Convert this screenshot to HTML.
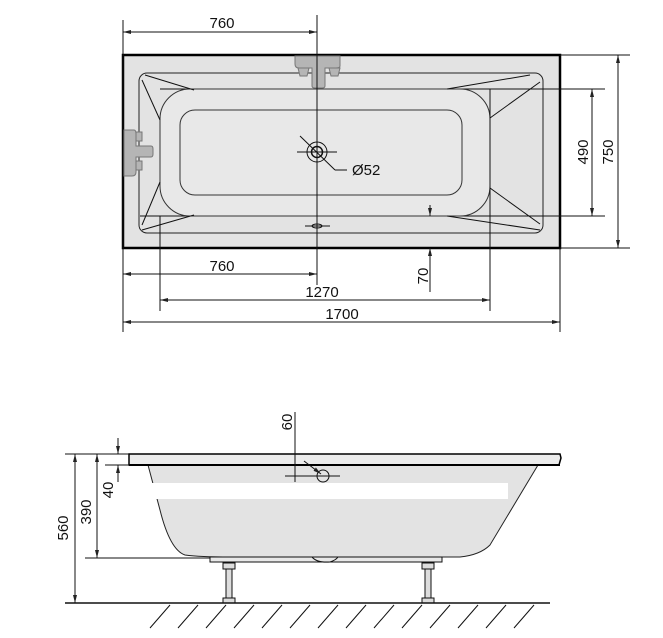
<!DOCTYPE html>
<html><head><meta charset="utf-8"><style>
html,body{margin:0;padding:0;background:#fff;}
svg{display:block;}
text{font-family:"Liberation Sans","DejaVu Sans",sans-serif;font-size:15px;fill:#111;}
</style></head><body>
<svg width="663" height="638" viewBox="0 0 663 638" xmlns="http://www.w3.org/2000/svg">
<defs>
<marker id="a" markerWidth="8" markerHeight="6" refX="8" refY="3" orient="auto-start-reverse" markerUnits="userSpaceOnUse"><path d="M0,1 L8,3 L0,5z" fill="#222"/></marker>
</defs>
<g stroke="#111" stroke-width="1" fill="none">
<!-- TOP VIEW -->
<rect x="123" y="55" width="437" height="193" fill="#e3e3e3" stroke="#000" stroke-width="2.5"/>
<rect x="139" y="73" width="404" height="160" rx="8" stroke="#222"/>
<line x1="160" y1="89" x2="605" y2="89"/>
<line x1="140" y1="216" x2="605" y2="216"/>
<rect x="160" y="89" width="330" height="127" rx="30" fill="#e8e8e8" stroke="#333"/>
<rect x="180" y="110" width="282" height="85" rx="15" stroke="#333"/>
<line x1="145" y1="75" x2="194" y2="90"/><line x1="142" y1="80" x2="160" y2="120"/>
<line x1="142" y1="230" x2="194" y2="215"/><line x1="142" y1="225" x2="160" y2="182"/>
<line x1="530" y1="75" x2="447" y2="89"/><line x1="540" y1="82" x2="490" y2="118"/>
<line x1="540" y1="230" x2="447" y2="216"/><line x1="540" y1="224" x2="490" y2="188"/>
<!-- faucets -->
<path d="M295,56 H340 V66 Q340,68 336,68 H325 V86 Q325,88 322,88 H315 Q312,88 312,86 V68 H299 Q295,68 295,64 Z" fill="#b5b5b5" stroke="#777"/>
<path d="M298,68 H309 L307,76 H300Z" fill="#b5b5b5" stroke="#777"/>
<path d="M329,68 H340 L338,76 H331Z" fill="#b5b5b5" stroke="#777"/>
<path d="M124,130 H134 Q136,130 136,134 V146 H151 Q153,146 153,149 V154 Q153,157 151,157 H136 V172 Q136,176 132,176 H124 Z" fill="#b5b5b5" stroke="#777"/>
<path d="M136,132 H142 V141 H136Z" fill="#b5b5b5" stroke="#777"/>
<path d="M136,161 H142 V170 H136Z" fill="#b5b5b5" stroke="#777"/>
<!-- drain -->
<circle cx="317" cy="152" r="10"/><circle cx="317" cy="152" r="5.5" stroke-width="1.5"/>
<line x1="297" y1="152" x2="337" y2="152"/>
<line x1="300" y1="136" x2="335" y2="170"/><line x1="335" y1="170" x2="347" y2="170"/>
<ellipse cx="317" cy="226" rx="5" ry="2"/><line x1="305" y1="226" x2="330" y2="226"/>
<!-- vertical ext lines -->
<line x1="317" y1="15" x2="317" y2="285"/>
<line x1="123" y1="20" x2="123" y2="332"/>
<line x1="160" y1="216" x2="160" y2="311"/>
<line x1="490" y1="89" x2="490" y2="311"/>
<line x1="560" y1="248" x2="560" y2="332"/>
<line x1="560" y1="55" x2="630" y2="55"/>
<line x1="560" y1="248" x2="630" y2="248"/>
<!-- dims -->
<line x1="123" y1="32" x2="317" y2="32" marker-start="url(#a)" marker-end="url(#a)"/>
<line x1="123" y1="274" x2="317" y2="274" marker-start="url(#a)" marker-end="url(#a)"/>
<line x1="160" y1="300" x2="490" y2="300" marker-start="url(#a)" marker-end="url(#a)"/>
<line x1="123" y1="322" x2="560" y2="322" marker-start="url(#a)" marker-end="url(#a)"/>
<line x1="592" y1="89" x2="592" y2="216" marker-start="url(#a)" marker-end="url(#a)"/>
<line x1="618" y1="55" x2="618" y2="248" marker-start="url(#a)" marker-end="url(#a)"/>
<line x1="430" y1="205" x2="430" y2="216" marker-end="url(#a)"/>
<line x1="430" y1="292" x2="430" y2="248" marker-end="url(#a)"/>
</g>
<text x="222" y="28" text-anchor="middle">760</text>
<text x="222" y="271" text-anchor="middle">760</text>
<text x="322" y="297" text-anchor="middle">1270</text>
<text x="342" y="319" text-anchor="middle">1700</text>
<text x="352" y="175">Ø52</text>
<text transform="translate(588,152) rotate(-90)" text-anchor="middle">490</text>
<text transform="translate(613,152) rotate(-90)" text-anchor="middle">750</text>
<text transform="translate(428,276) rotate(-90)" text-anchor="middle">70</text>

<!-- SIDE VIEW -->
<g stroke="#111" stroke-width="1" fill="none">
<path d="M148,465 L160,510 Q170,550 185,555 Q200,557 230,557 L460,557 Q480,555 490,545 L538,465 Z" fill="#e3e3e3" stroke="#222"/>
<path d="M129,454 H560 L561,458 L559,465 H129 Z" fill="#ececec" stroke="#000" stroke-width="1.5"/>
<line x1="129" y1="465" x2="560" y2="465" stroke="#000" stroke-width="2"/>
<rect x="210" y="557" width="232" height="5" fill="#e8e8e8"/>
<path d="M312,557 Q317,563 330,562 Q336,560 338,557" />
<rect x="223" y="563" width="12" height="6" fill="#ddd"/><rect x="226" y="569" width="6" height="32" fill="#ddd"/><rect x="223" y="598" width="12" height="5" fill="#ddd"/>
<rect x="422" y="563" width="12" height="6" fill="#ddd"/><rect x="425" y="569" width="6" height="32" fill="#ddd"/><rect x="422" y="598" width="12" height="5" fill="#ddd"/>
<line x1="65" y1="603" x2="550" y2="603" stroke-width="1.5"/>
<line x1="150" y1="628" x2="170" y2="605"/><line x1="178" y1="628" x2="198" y2="605"/><line x1="206" y1="628" x2="226" y2="605"/><line x1="234" y1="628" x2="254" y2="605"/><line x1="262" y1="628" x2="282" y2="605"/><line x1="290" y1="628" x2="310" y2="605"/><line x1="318" y1="628" x2="338" y2="605"/><line x1="346" y1="628" x2="366" y2="605"/><line x1="374" y1="628" x2="394" y2="605"/><line x1="402" y1="628" x2="422" y2="605"/><line x1="430" y1="628" x2="450" y2="605"/><line x1="458" y1="628" x2="478" y2="605"/><line x1="486" y1="628" x2="506" y2="605"/><line x1="514" y1="628" x2="534" y2="605"/>
<line x1="65" y1="454" x2="129" y2="454"/>
<line x1="105" y1="465" x2="129" y2="465"/>
<line x1="85" y1="558" x2="210" y2="558"/>
<line x1="75" y1="454" x2="75" y2="603" marker-start="url(#a)" marker-end="url(#a)"/>
<line x1="97" y1="454" x2="97" y2="558" marker-start="url(#a)" marker-end="url(#a)"/>
<line x1="118" y1="438" x2="118" y2="454" marker-end="url(#a)"/>
<line x1="118" y1="482" x2="118" y2="465" marker-end="url(#a)"/>
<line x1="295" y1="412" x2="295" y2="482"/>
<line x1="285" y1="476" x2="340" y2="476"/>
<circle cx="323" cy="476" r="6"/>
<line x1="304" y1="461" x2="321" y2="474" marker-end="url(#a)"/>
</g>
<rect x="150" y="483" width="358" height="16" fill="#fff"/>
<text transform="translate(68,528) rotate(-90)" text-anchor="middle">560</text>
<text transform="translate(91,512) rotate(-90)" text-anchor="middle">390</text>
<text transform="translate(113,490) rotate(-90)" text-anchor="middle">40</text>
<text transform="translate(292,422) rotate(-90)" text-anchor="middle">60</text>
</svg>
</body></html>
